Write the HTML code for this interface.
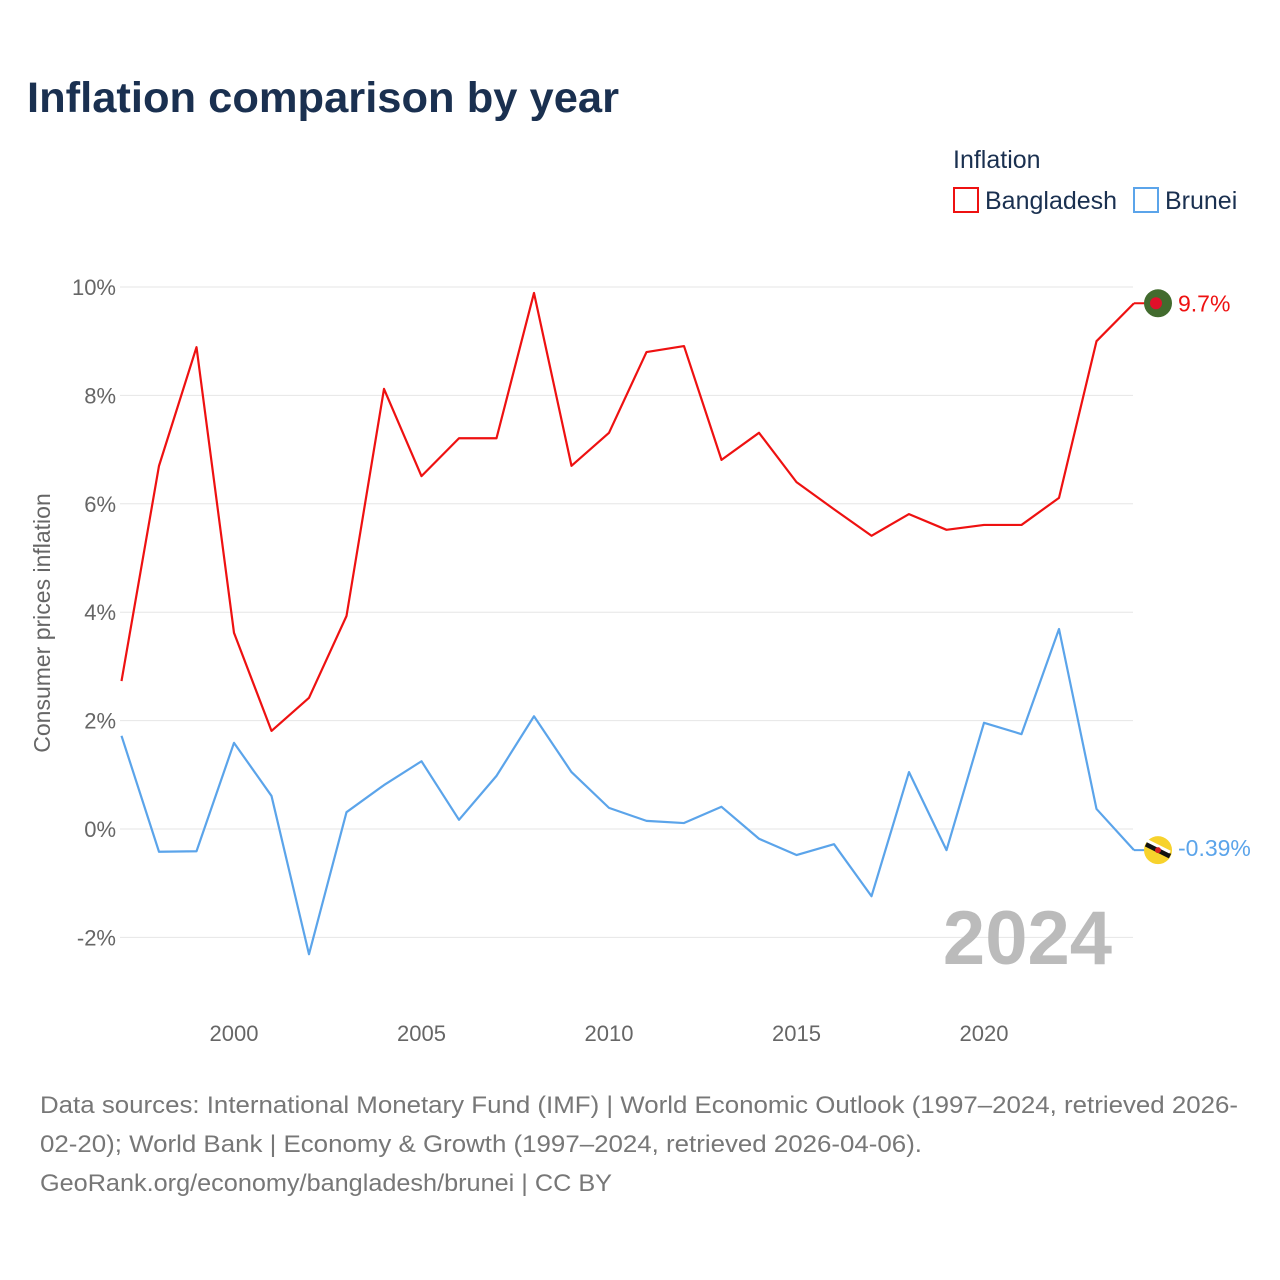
<!DOCTYPE html>
<html><head><meta charset="utf-8">
<style>
body{margin:0;background:#fff;font-family:"Liberation Sans",sans-serif;}
#wrap{position:relative;width:1280px;height:1280px;overflow:hidden;}
</style></head>
<body>
<div id="wrap">
<svg id="chart" width="1280" height="1280">
  <text x="27" y="112" font-size="43" font-weight="bold" fill="#1a3050" textLength="592" lengthAdjust="spacingAndGlyphs">Inflation comparison by year</text>
  <text x="953" y="168" font-size="25" fill="#1a3050">Inflation</text>
  <g>
    <rect x="954" y="188" width="24" height="24" fill="none" stroke="#ee1111" stroke-width="2"/>
    <text x="985" y="209" font-size="25" fill="#1a3050">Bangladesh</text>
  </g>
  <g>
    <rect x="1134" y="188" width="24" height="24" fill="none" stroke="#5ba4ea" stroke-width="2"/>
    <text x="1165" y="209" font-size="25" fill="#1a3050">Brunei</text>
  </g>
  <g id="grid"></g>
  <g id="yticks"></g>
  <g id="xticks"></g>
  <text transform="translate(50,623) rotate(-90)" text-anchor="middle" font-size="23" fill="#666">Consumer prices inflation</text>
  <text x="1112" y="964" text-anchor="end" font-size="76" font-weight="bold" fill="#bbb">2024</text>
  <g id="series"></g>
  <text x="40" y="1113" font-size="24" fill="#777" textLength="1198" lengthAdjust="spacingAndGlyphs">Data sources: International Monetary Fund (IMF) | World Economic Outlook (1997–2024, retrieved 2026-</text>
  <text x="40" y="1152" font-size="24" fill="#777" textLength="882" lengthAdjust="spacingAndGlyphs">02-20); World Bank | Economy &amp; Growth (1997–2024, retrieved 2026-04-06).</text>
  <text x="40" y="1191" font-size="24" fill="#777" textLength="572" lengthAdjust="spacingAndGlyphs">GeoRank.org/economy/bangladesh/brunei | CC BY</text>
</svg>
</div>
<script>
const years = [1997,1998,1999,2000,2001,2002,2003,2004,2005,2006,2007,2008,2009,2010,2011,2012,2013,2014,2015,2016,2017,2018,2019,2020,2021,2022,2023,2024];
const bangladesh = [2.73,6.70,8.89,3.62,1.81,2.42,3.93,8.12,6.51,7.21,7.21,9.89,6.70,7.31,8.80,8.91,6.81,7.31,6.40,5.90,5.41,5.81,5.52,5.61,5.61,6.11,9.00,9.70];
const brunei = [1.72,-0.42,-0.41,1.59,0.61,-2.31,0.31,0.81,1.25,0.17,0.98,2.08,1.05,0.39,0.15,0.11,0.41,-0.18,-0.48,-0.28,-1.24,1.05,-0.39,1.96,1.75,3.69,0.37,-0.39];
const yTicks = [-2,0,2,4,6,8,10];
const yTickLabels = ["-2%","0%","2%","4%","6%","8%","10%"];
const xTicks = [2000,2005,2010,2015,2020];

const NS="http://www.w3.org/2000/svg";
function xs(y){return 121.5+(y-1997)*37.5;}
function ys(v){return 829-v*54.2;}
function mk(tag,attrs,parent){const e=document.createElementNS(NS,tag);for(const k in attrs)e.setAttribute(k,attrs[k]);parent.appendChild(e);return e;}
const grid=document.getElementById('grid'),yt=document.getElementById('yticks'),xt=document.getElementById('xticks'),ser=document.getElementById('series');
yTicks.forEach((t,i)=>{
  const l=mk('line',{x1:120,x2:1133,y1:ys(t),y2:ys(t),stroke:'#e6e6e6','stroke-width':1},grid);
  
  
  const tx=mk('text',{x:116,y:ys(t)+8,'text-anchor':'end','font-size':22,fill:'#666'},yt);
  tx.textContent=yTickLabels[i];
  
  
});
xTicks.forEach(t=>{
  const tx=mk('text',{x:xs(t),y:1041,'text-anchor':'middle','font-size':22,fill:'#666'},xt);
  tx.textContent=t;
  
  
});
function line(vals,color,name){
  const d=vals.map((v,i)=>(i?'L':'M')+xs(years[i])+','+ys(v)).join(' ');
  const p=mk('path',{d:d,fill:'none',stroke:color,'stroke-width':2.2,'stroke-linejoin':'round'},ser);
  
  
}
line(bangladesh,'#ee1111','bangladesh-line');
line(brunei,'#5ba4ea','brunei-line');
const lb=bangladesh[bangladesh.length-1], lr=brunei[brunei.length-1], lx=xs(2024);
mk('line',{x1:lx,x2:lx+12,y1:ys(lb),y2:ys(lb),stroke:'#ee1111','stroke-width':2},ser);
const f1=mk('circle',{cx:lx+24,cy:ys(lb),r:14,fill:'#426b2e'},ser);


mk('circle',{cx:lx+22,cy:ys(lb),r:6,fill:'#e0102a'},ser);
const t1=mk('text',{x:lx+44,y:ys(lb)+8,'font-size':23,fill:'#ee1111'},ser);
t1.textContent=lb.toFixed(1)+'%';


mk('line',{x1:lx,x2:lx+12,y1:ys(lr),y2:ys(lr),stroke:'#5ba4ea','stroke-width':2},ser);
const f2=mk('circle',{cx:lx+24,cy:ys(lr),r:14,fill:'#f7d22c'},ser);


mk('line',{x1:lx+12,x2:lx+36,y1:ys(lr)-6,y2:ys(lr)+6,stroke:'#111','stroke-width':5},ser);
mk('line',{x1:lx+12,x2:lx+36,y1:ys(lr)-10,y2:ys(lr)+2,stroke:'#fff','stroke-width':3},ser);
mk('circle',{cx:lx+24,cy:ys(lr),r:3,fill:'#d01c1f'},ser);
const t2=mk('text',{x:lx+44,y:ys(lr)+6,'font-size':23,fill:'#5ba4ea'},ser);
t2.textContent=lr.toFixed(2)+'%';


</script>
</body></html>
